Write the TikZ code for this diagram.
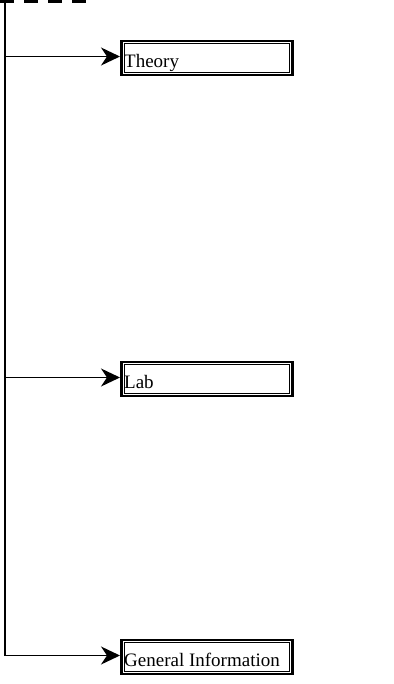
\documentclass[tikz,border=0pt]{standalone}
\usepackage{fontspec}
\setmainfont{Liberation Serif}
\usetikzlibrary{arrows.meta}
\begin{document}
\begin{tikzpicture}[x=1pt,y=-1pt,
  box/.style={draw,line width=2.6pt,minimum width=171pt,minimum height=34pt,inner sep=0pt,anchor=west},
  lbl/.style={anchor=base west,inner sep=0pt,font=\fontsize{19}{22}\selectfont},
  conn/.style={line width=1.6pt,-{Stealth[length=19pt,width=18pt,inset=6pt]}},
  trunk/.style={line width=1.8pt}]
\useasboundingbox (0,0) rectangle (393,684);
\fill[white] (0,0) rectangle (393,684);
% dashed top line
\coordinate (d0) at (0,1.5);
\coordinate (d1) at (86,1.5);
\draw[line width=3.5pt,dash pattern=on 14pt off 10pt] (d0) -- (d1);
% trunk
\coordinate (t0) at (5,0);
\coordinate (t1) at (5,56.5);
\coordinate (t2) at (5,377.5);
\coordinate (t3) at (5,655.5);
\draw[trunk] (t0) -- (t3);
% boxes
\node[box] (b1) at (120,58) {};
\node[box] (b2) at (120,379) {};
\node[box] (b3) at (120,657) {};
\foreach \b in {b1,b2,b3}{
  \draw[line width=1.1pt] ([shift={(4.2,4.2)}]\b.north west) rectangle ([shift={(-4.2,-4.2)}]\b.south east);
}
\node[lbl] (l1) at (124,67.5) {Theory};
\node[lbl] (l2) at (124,388.5) {Lab};
\node[lbl] (l3) at (124,666.5) {General Information};
% connectors
\draw[conn] (t1) -- (b1.west |- t1);
\draw[conn] (t2) -- (b2.west |- t2);
\draw[conn] (t3) -- (b3.west |- t3);
\end{tikzpicture}
\end{document}
